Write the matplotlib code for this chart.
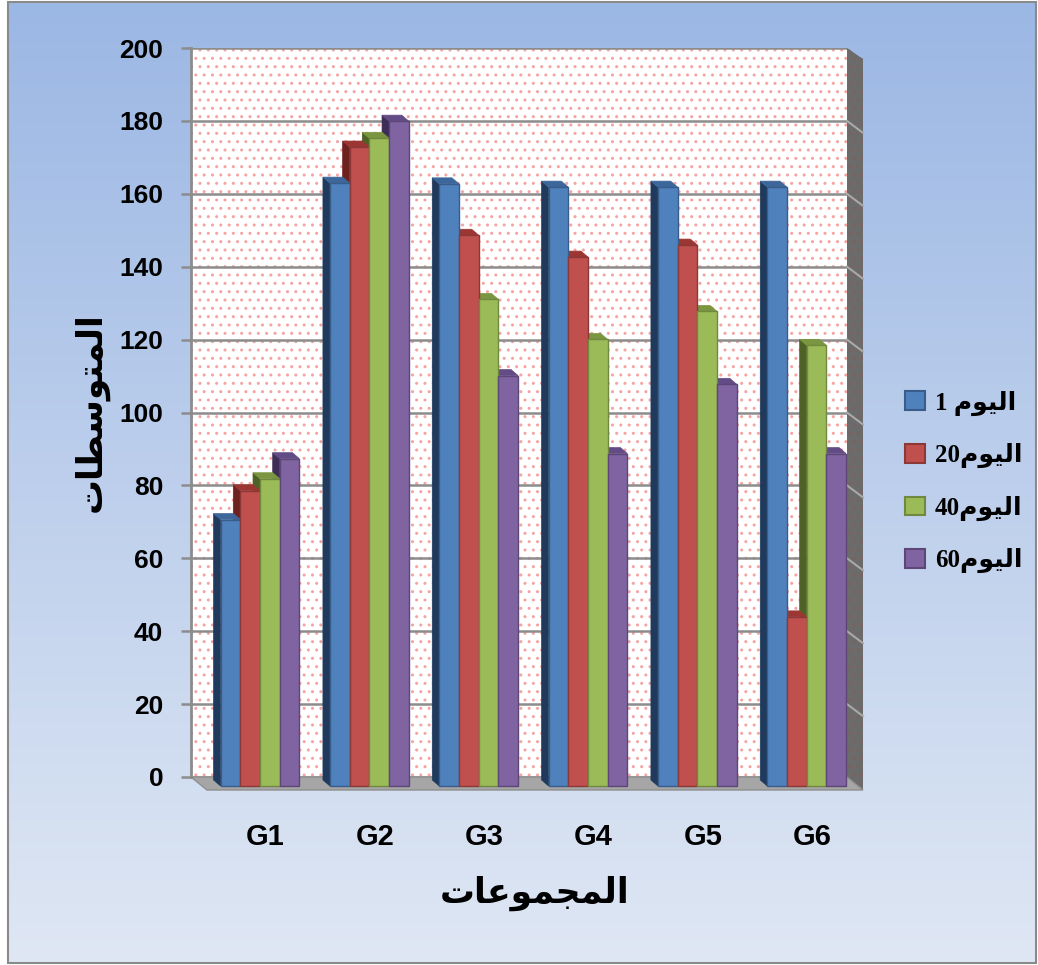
import matplotlib
matplotlib.use("Agg")
import matplotlib.pyplot as plt
from matplotlib.patches import Polygon, Rectangle
import numpy as np

# ---- data ----
groups = ["G1", "G2", "G3", "G4", "G5", "G6"]
day1 = [73.1, 165.4, 165.2, 164.3, 164.3, 164.3]
day20 = [81.0, 175.3, 151.1, 145.1, 148.4, 46.4]
day40 = [84.3, 177.7, 133.5, 122.5, 130.2, 120.9]
day60 = [89.8, 182.4, 112.6, 91.2, 110.2, 91.2]
series = [day1, day20, day40, day60]
yticks = [0, 20, 40, 60, 80, 100, 120, 140, 160, 180, 200]

# arabic text, pre-shaped (presentation forms) in visual order
word_day = "\ufee1\ufeee\ufef4\ufedf\ufe8d"  # اليوم
legend_labels = ["1 " + word_day, "20" + word_day, "40" + word_day, "60" + word_day]
x_title = "\ufe95\ufe8e\ufecb\ufeee\ufee4\ufea0\ufee4\ufedf\ufe8d"  # المجموعات
y_title = "\ufe95\ufe8e\ufec4\ufeb3\ufeee\ufe98\ufee4\ufedf\ufe8d"  # المتوسطات

# colours
front = ["#4F81BD", "#C0504D", "#9BBB59", "#8064A2"]
edge = ["#385D8A", "#8C3836", "#71893F", "#5C4776"]
side = ["#1F3A5C", "#6E2220", "#4E6226", "#3E2D56"]
topc = ["#3D679A", "#9B3633", "#7A9640", "#634B85"]

W, H = 1038, 965
fig = plt.figure(figsize=(W / 100, H / 100), dpi=100)

# background gradient + border
bg = fig.add_axes([0, 0, 1, 1])
bg.set_xlim(0, W)
bg.set_ylim(H, 0)
bg.axis("off")
c_top = np.array([155, 183, 228]) / 255
c_bot = np.array([223, 231, 244]) / 255
t = np.linspace(0, 1, 256)[:, None, None]
grad = c_top * (1 - t) + c_bot * t
grad = np.repeat(grad, 2, axis=1)
bg.imshow(grad, extent=(8, 1036, 963, 2), aspect="auto", zorder=0)
bg.add_patch(Rectangle((8, 2), 1028, 961, fill=False, ec="#8A8A8A", lw=1.5, zorder=1))

# plot wall
left, right, bot, top = 191, 847, 777, 48
ax = fig.add_axes([left / W, (H - bot) / H, (right - left) / W, (bot - top) / H])
ax.set_facecolor("none")
ax.add_patch(Rectangle((0, 0), 1, 1, transform=ax.transAxes, fc="white",
                       ec="#F5A3A3", hatch="..", lw=0, zorder=0))

span = 6.0
px_x = span / (right - left)
px_y = 200.0 / (bot - top)
x0 = -(260 - left) * px_x
ax.set_xlim(x0, x0 + span)
ax.set_ylim(0, 200)

# side wall and floor (depth 16 px right, 13 px down)
dx_a = 16 / (right - left)
dy_a = 13 / (bot - top)
ax.add_patch(Polygon([(1, 1), (1 + dx_a, 1 - 11 / (bot - top)), (1 + dx_a, -dy_a), (1, 0)],
                     closed=True, transform=ax.transAxes, fc="#6B6B6B", ec="#7E6060",
                     hatch="..", lw=0, clip_on=False, zorder=1))
for yv in yticks[1:-1]:
    ya = yv / 200
    ax.plot([1, 1 + dx_a], [ya, ya - 12 / (bot - top)], transform=ax.transAxes,
            color="#A9A9A9", lw=1.5, clip_on=False, zorder=1.5)
ax.add_patch(Polygon([(0, 0), (1, 0), (1 + dx_a, -dy_a), (dx_a, -dy_a)], closed=True,
                     transform=ax.transAxes, fc="#A6A6A6", ec="#8F8F8F", lw=1,
                     clip_on=False, zorder=1))

# 3d-looking bars
w = 19.7 / 109.33
ddx = 7 * px_x
ddy = 6 * px_y
shift = 9 * px_y
xs = np.arange(len(groups))
for i, vals in enumerate(series):
    xc = xs + (i - 1.5) * w
    bars = ax.bar(xc, vals, width=w, bottom=-shift, color=front[i], edgecolor=edge[i],
                  linewidth=1, zorder=5, clip_on=False)
    for b, v in zip(bars, vals):
        xl = b.get_x()
        b0 = -shift
        ax.add_patch(Polygon([(xl, b0), (xl, b0 + v), (xl - ddx, b0 + v + ddy), (xl - ddx, b0 + ddy)],
                             closed=True, fc=side[i], ec=side[i], lw=0.5, zorder=3, clip_on=False))
        ax.add_patch(Polygon([(xl, b0 + v), (xl + w, b0 + v), (xl + w - ddx, b0 + v + ddy),
                              (xl - ddx, b0 + v + ddy)],
                             closed=True, fc=topc[i], ec=topc[i], lw=0.5, zorder=4, clip_on=False))

# axes styling
for s in ["top", "right", "bottom"]:
    ax.spines[s].set_visible(False)
ax.spines["left"].set_color("#8C8C8C")
ax.spines["left"].set_linewidth(2)
ax.set_yticks(yticks)
ax.yaxis.grid(True, color="#8C8C8C", lw=1.8, zorder=2)
ax.set_axisbelow(True)
ax.tick_params(axis="y", length=7, width=1.8, color="#8C8C8C", pad=13)
ax.set_xticks(xs + 0.05, groups)
ax.tick_params(axis="x", length=0, pad=33)
for lab in ax.get_yticklabels():
    lab.set_fontfamily("Liberation Sans")
    lab.set_fontweight("bold")
    lab.set_fontsize(19)
for lab in ax.get_xticklabels():
    lab.set_fontfamily("Liberation Sans")
    lab.set_fontweight("bold")
    lab.set_fontsize(21)

# titles
fig.text(535 / W, 1 - 893 / H, x_title, ha="center", va="center", fontsize=25,
         fontweight="bold", family=["DejaVu Sans"])
fig.text(91 / W, 1 - 412 / H, y_title, ha="center", va="center", fontsize=25,
         fontweight="bold", rotation=90, family=["DejaVu Sans"])

# legend
handles = [Rectangle((0, 0), 1, 1, fc=front[i], ec=edge[i], lw=1.5) for i in range(4)]
fig.legend(handles, legend_labels, loc="center", bbox_to_anchor=(964 / W, 1 - 482 / H),
           frameon=False, handlelength=0.78, handleheight=0.78, labelspacing=1.1,
           handletextpad=0.4,
           prop={"family": ["Liberation Serif", "DejaVu Sans"], "weight": "bold", "size": 18})

fig.savefig("out.png", dpi=100)
